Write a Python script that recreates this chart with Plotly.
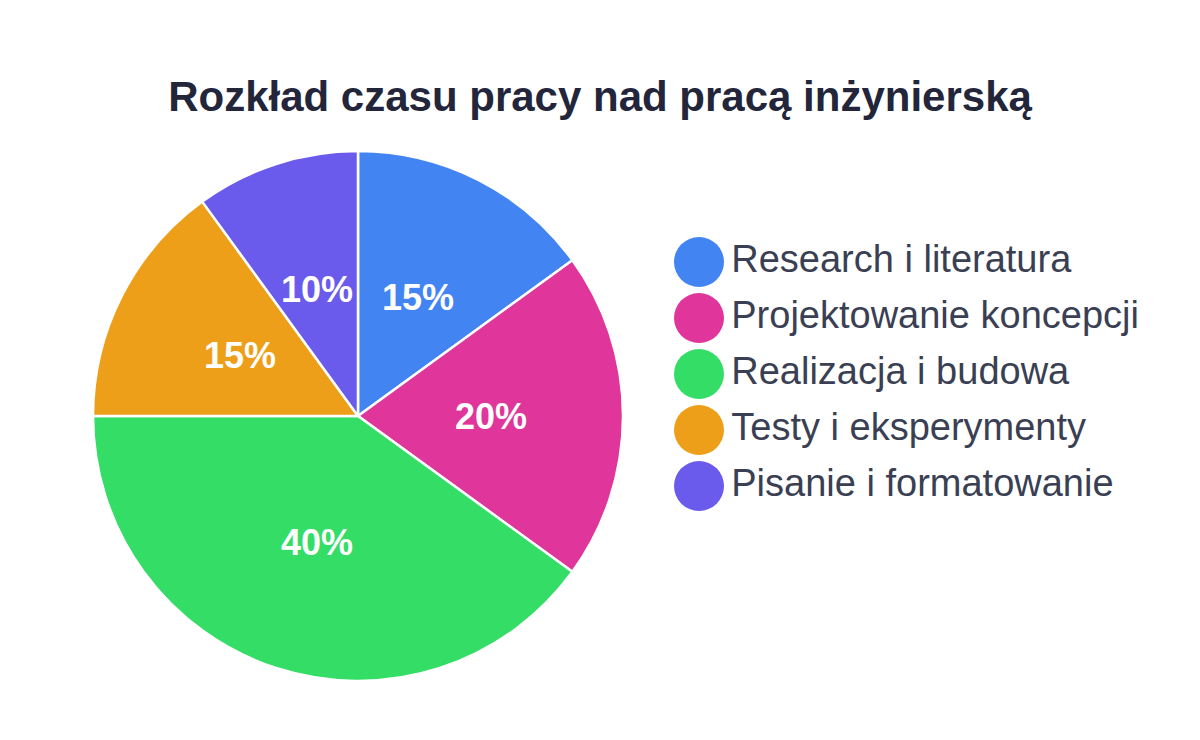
import math
import plotly.graph_objects as go

categories = ["Research i literatura", "Projektowanie koncepcji", "Realizacja i budowa",
              "Testy i eksperymenty", "Pisanie i formatowanie"]
values = [15, 20, 40, 15, 10]
colors = ["#4384f3", "#e0359a", "#33dd66", "#ee9f19", "#6a5bec"]
title_text = "Rozkład czasu pracy nad pracą inżynierską"

FONT = "Liberation Sans, Arial, sans-serif"
pie_dom_x = [93 / 1200, 623 / 1200]
pie_dom_y = [1 - 681 / 740, 1 - 151 / 740]

fig = go.Figure()

fig.add_trace(go.Pie(
    labels=categories,
    values=values,
    sort=False,
    direction="clockwise",
    rotation=0,
    marker=dict(colors=colors, line=dict(color="white", width=2.5)),
    textinfo="none",
    domain=dict(x=pie_dom_x, y=pie_dom_y),
    showlegend=False,
    hoverinfo="label+percent",
))

# percentage labels at half radius, placed from cumulative slice angles
total = sum(values)
cum = 0
for v in values:
    mid = (cum + v / 2) / total * 2 * math.pi
    fig.add_annotation(
        x=0.5 * math.sin(mid), y=0.5 * math.cos(mid), xref="x2", yref="y2",
        text=f"<b>{round(v / total * 100)}%</b>", showarrow=False,
        xanchor="center", yanchor="middle",
        font=dict(family=FONT, size=36, color="white"),
    )
    cum += v

# custom legend with big circular markers
leg_idx = list(range(len(categories)))
fig.add_trace(go.Scatter(
    x=[699] * len(categories),
    y=leg_idx,
    mode="markers+text",
    marker=dict(size=50, color=colors, line=dict(width=0)),
    text=categories,
    textposition="middle right",
    textfont=dict(family=FONT, size=38, color="#3a3f53"),
    showlegend=False,
    hoverinfo="skip",
    cliponaxis=False,
))

fig.update_layout(
    width=1200, height=740,
    margin=dict(l=0, r=0, t=0, b=0),
    paper_bgcolor="white", plot_bgcolor="rgba(0,0,0,0)",
    title=dict(text=f"<b>{title_text}</b>", x=0.5, xanchor="center",
               y=1 - 96 / 740, yanchor="middle",
               font=dict(family=FONT, size=42, color="#23263a")),
    xaxis=dict(range=[0, 1200], domain=[0, 1], visible=False, fixedrange=True),
    yaxis=dict(range=[740 / 56 - 262 / 56, -262 / 56], domain=[0, 1], visible=False, fixedrange=True),
    xaxis2=dict(range=[-1, 1], domain=pie_dom_x, visible=False, fixedrange=True, anchor="y2"),
    yaxis2=dict(range=[-1, 1], domain=pie_dom_y, visible=False, fixedrange=True, anchor="x2"),
)

fig.write_html("out.html")
